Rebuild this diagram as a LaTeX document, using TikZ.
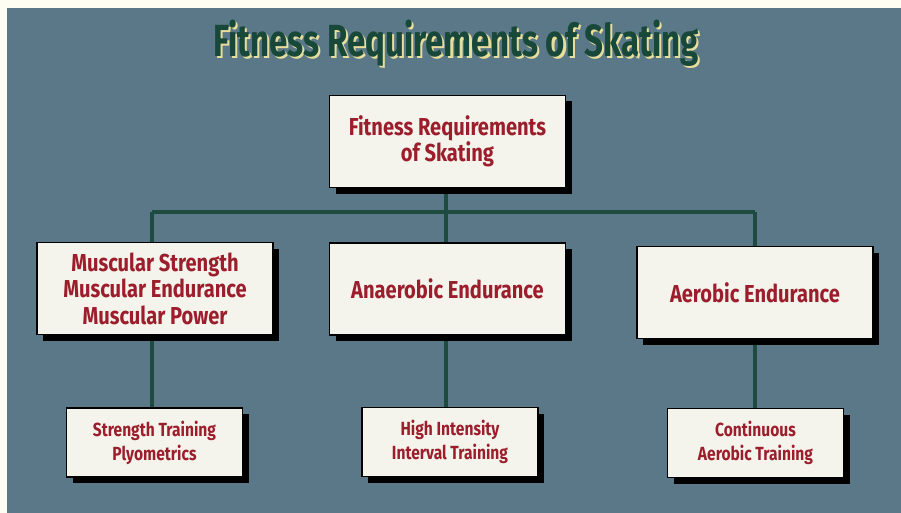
\documentclass[tikz,border=0pt]{standalone}
\usepackage{fontspec}
\setmainfont{Fira Sans}[BoldFont={Fira Sans Bold}]
\newfontfamily\titlefont{Fira Sans Bold}[FakeStretch=0.735]
\newfontfamily\boxfont{Fira Sans Bold}[FakeStretch=0.82]
\usetikzlibrary{shadows}
\definecolor{bgblue}{HTML}{5A7887}
\definecolor{paper}{HTML}{F5F4EC}
\definecolor{txtred}{HTML}{9C1E2C}
\definecolor{lnggreen}{HTML}{1E4B40}
\definecolor{ttlgreen}{HTML}{17483A}
\definecolor{ttlyellow}{HTML}{E8DE9C}
\pgfdeclarelayer{back}
\pgfdeclarelayer{bg}
\pgfsetlayers{back,bg,main}
\tikzset{
  box/.style={draw=black, line width=1.6pt, fill=paper, align=center,
    text=txtred,
    drop shadow={shadow xshift=6pt, shadow yshift=-6pt, opacity=1, fill=black}},
  bigbox/.style={box, minimum width=236pt, minimum height=92pt, font=\boxfont\fontsize{24.5}{26.5}\selectfont},
  smallbox/.style={box, minimum width=176pt, minimum height=69pt, font=\boxfont\fontsize{19}{24}\selectfont},
  link/.style={draw=lnggreen, line width=3.5pt},
  titlestyle/.style={font=\titlefont\fontsize{45}{48}\selectfont, text=ttlgreen}
}
\newcommand{\ttltext}{Fitness Requirements of Skating}
\begin{document}
\begin{tikzpicture}[x=1pt,y=-1pt]
\useasboundingbox (0,0) rectangle (901,513);
\begin{pgfonlayer}{back}
\fill[white!95!yellow] (0,0) rectangle (901,513);
\fill[bgblue] (7,8) rectangle (901,513);
\end{pgfonlayer}
% title with offset yellow shadow
\node[titlestyle] (title) at (456,44) {\makebox[0pt][l]{\hspace{2.2pt}\raisebox{-2.2pt}{\color{ttlyellow}\ttltext}}\ttltext};
% boxes
\node[bigbox] (top) at (447.5,141.5) {Fitness Requirements\\of Skating};
\node[bigbox] (ml) at (155,288.5) {Muscular Strength\\Muscular Endurance\\Muscular Power};
\node[bigbox] (mc) at (447.5,289) {Anaerobic Endurance};
\node[bigbox] (mr) at (755,292.5) {Aerobic Endurance};
\node[smallbox] (bl) at (154.5,442.5) {Strength Training\\Plyometrics};
\node[smallbox] (bc) at (450,442) {High Intensity\\Interval Training};
\node[smallbox] (br) at (755.5,443) {Continuous\\Aerobic Training};
% connectors
\coordinate (jl) at (152,212);
\coordinate (jc) at (446,212);
\coordinate (jr) at (755,212);
\begin{pgfonlayer}{bg}
\draw[link] (jc |- top.south) -- (jc);
\draw[link] (jl) -- (jr);
\draw[link] (jl) -- (jl |- bl.north);
\draw[link] (jc) -- (jc |- bc.north);
\draw[link] (jr) -- (jr |- br.north);
\end{pgfonlayer}
\end{tikzpicture}
\end{document}
